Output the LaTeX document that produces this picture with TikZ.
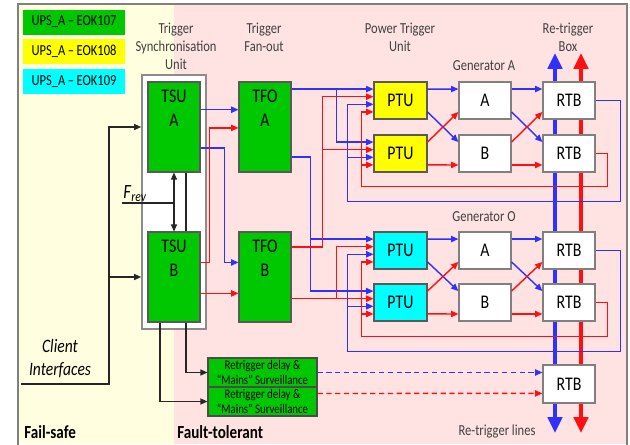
\documentclass[tikz,border=0pt]{standalone}
\usepackage{fontspec}
\setmainfont{Carlito}[FakeStretch=0.82]
\usetikzlibrary{arrows.meta,positioning,calc}

\definecolor{tsugreen}{RGB}{0,200,0}
\definecolor{ptuyellow}{RGB}{255,255,0}
\definecolor{ptucyan}{RGB}{0,255,255}
\definecolor{failbg}{RGB}{255,255,224}
\definecolor{faultbg}{RGB}{255,226,226}
\definecolor{lineblue}{RGB}{48,48,255}
\definecolor{linered}{RGB}{255,16,16}

\begin{document}
\begin{tikzpicture}[x=0.02cm, y=-0.02cm,
  unitbox/.style  = {rectangle, draw=black!65, line width=0.6pt,
                     align=center, inner sep=0pt,
                     font=\fontsize{11}{13.6}\selectfont},
  tsubox/.style   = {unitbox, fill=tsugreen,
                     minimum width=1.04cm, minimum height=1.8cm},
  tsuframe/.style = {rectangle, draw=black!45, line width=0.9pt, fill=white,
                     minimum width=1.28cm, minimum height=5.08cm},
  ptubox/.style   = {unitbox, minimum width=1.06cm, minimum height=0.74cm},
  genbox/.style   = {unitbox, fill=white, draw=black!50, line width=0.7pt,
                     minimum width=1.04cm, minimum height=0.74cm},
  rtdbox/.style   = {rectangle, draw=black!70, line width=0.6pt, fill=tsugreen,
                     align=center, inner sep=0pt,
                     font=\fontsize{7.5}{8.4}\selectfont,
                     minimum width=2.18cm, minimum height=0.58cm},
  legbox/.style   = {rectangle, inner sep=0pt,
                     font=\fontsize{8.7}{10}\selectfont,
                     minimum width=2.04cm, minimum height=0.5cm},
  boxtxt/.style   = {align=center, inner sep=0pt,
                     font=\fontsize{11}{13.6}\selectfont},
  hdr/.style      = {align=center, inner sep=0pt, text=black!75,
                     font=\fontsize{8.7}{10.2}\selectfont},
  zone/.style     = {inner sep=0pt, font=\fontsize{10.5}{12}\selectfont\bfseries},
  bl/.style  = {-{Triangle[length=4.2pt,width=3.6pt]}, line width=0.8pt, lineblue},
  rd/.style  = {-{Triangle[length=4.2pt,width=3.6pt]}, line width=0.8pt, linered},
  blk/.style = {line width=0.7pt, black!85},
  blkarr/.style = {blk, -{Triangle[length=4pt,width=3.4pt]}},
  bus/.style = {{Triangle[length=9pt,width=8pt]}-{Triangle[length=9pt,width=8pt]},
                line width=2.4pt},
]

\useasboundingbox (0,0) rectangle (630,444);

%%═══════════════════════════════════════════════════════════
%% Zones and frame
%%═══════════════════════════════════════════════════════════

\fill[failbg]  (18,4)  rectangle (174,444);
\fill[faultbg] (174,4) rectangle (628,444);
\draw[black!50, line width=0.6pt] (18,446) -- (18,4) -- (627,4) -- (627,446);

\node[zone, anchor=west] (fs) at (24,432)  {Fail-safe};
\node[zone, anchor=west] (ft) at (177,432) {Fault-tolerant};

%% legend
\node[legbox, fill=tsugreen] (legA) at (74,22) {UPS\_A\,–\,EOK107};
\node[legbox, fill=ptuyellow, below=0.08cm of legA] (legB) {UPS\_A\,–\,EOK108};
\node[legbox, fill=ptucyan,   below=0.08cm of legB] (legC) {UPS\_A\,–\,EOK109};

%% column headers
\node[hdr] (hTSU) at (176,46)  {Trigger\\Synchronisation\\Unit};
\node[hdr] (hTFO) at (264,37)  {Trigger\\Fan-out};
\node[hdr] (hPTU) at (400,37)  {Power Trigger\\Unit};
\node[hdr] (hRTB) at (568,37)  {Re-trigger\\Box};
\node[hdr] (hGA)  at (484,66)  {Generator A};
\node[hdr] (hGO)  at (484,217) {Generator O};
\node[hdr] (hRTL) at (497,432) {Re-trigger lines};

%% re-trigger lines (behind the boxes)
\coordinate (rlBtop) at (555,53);
\coordinate (rlBbot) at (555,433);
\coordinate (rlRtop) at (581,53);
\coordinate (rlRbot) at (581,433);
\draw[bus, lineblue] (rlBtop) -- (rlBbot);
\draw[bus, linered]  (rlRtop) -- (rlRbot);

%%═══════════════════════════════════════════════════════════
%% Units
%%═══════════════════════════════════════════════════════════

\node[tsuframe] (tsu) at (174,202) {};
\node[tsubox] (tsuA) at (174,127) {};
\node[boxtxt, below=4.5pt of tsuA.north] (tsuAtxt) {TSU\\A};
\node[tsubox] (tsuB) at (174,277) {};
\node[boxtxt, below=4.5pt of tsuB.north] (tsuBtxt) {TSU\\B};

\node[tsubox] (tfoA) at (265,127) {};
\node[boxtxt, below=4.5pt of tfoA.north] (tfoAtxt) {TFO\\A};
\node[tsubox] (tfoB) at (265,277) {};
\node[boxtxt, below=4.5pt of tfoB.north] (tfoBtxt) {TFO\\B};

\node[ptubox, fill=ptuyellow] (ptu1) at (400.5,100.5) {PTU};
\node[ptubox, fill=ptuyellow] (ptu2) at (400.5,153.5) {PTU};
\node[ptubox, fill=ptucyan]   (ptu3) at (400.5,250.5) {PTU};
\node[ptubox, fill=ptucyan]   (ptu4) at (400.5,302.5) {PTU};

\node[genbox] (gA1) at (485,100.5) {A};
\node[genbox] (gA2) at (485,153.5) {B};
\node[genbox] (gO1) at (485,250.5) {A};
\node[genbox] (gO2) at (485,302.5) {B};

\node[genbox] (rtb1) at (569,100.5) {RTB};
\node[genbox] (rtb2) at (569,153.5) {RTB};
\node[genbox] (rtb3) at (569,250.5) {RTB};
\node[genbox] (rtb4) at (569,302.5) {RTB};
\node[genbox, minimum height=0.76cm] (rtb5) at (569,384) {RTB};

\node[rtdbox] (rtd1) at (262.5,372.5) {Retrigger delay \&\\“Mains” Surveillance};
\node[rtdbox] (rtd2) at (262.5,401.5) {Retrigger delay \&\\“Mains” Surveillance};

%%═══════════════════════════════════════════════════════════
%% Fail-safe side
%%═══════════════════════════════════════════════════════════

\node[align=center, inner sep=0pt, font=\fontsize{10.8}{13}\selectfont\itshape]
  (client) at (60,358.5) {Client\\Interfaces};
\coordinate (ci) at (21,384);
\draw[blkarr] (ci) -- ++(88,0) |- (tsu.west |- tsuA);
\draw[blkarr] ($(ci)+(88,0)$) |- (tsu.west |- tsuB);

\coordinate (frevin) at (122,203);
\node[inner sep=0.6pt, anchor=south west, font=\fontsize{11.5}{12}\selectfont]
  (frev) at (frevin) {\textit{F}\textsubscript{\textit{rev}}};
\draw[blk] (frevin) -- (frevin -| tsuA.south);
\draw[blk, {Triangle[length=4pt,width=3.4pt]}-{Triangle[length=4pt,width=3.4pt]}]
  (tsuA.south) -- (tsuB.north);
\draw[blk] ($(tsuA.south)+(12,0)$) -- ($(tsuB.north)+(12,0)$);
\draw[blkarr] ($(tsuB.south)+(12,0)$) |- (rtd1.west);
\draw[blkarr] ($(tsuB.south)+(-14,0)$) |- (rtd2.west);

%%═══════════════════════════════════════════════════════════
%% TSU -> TFO -> PTU
%%═══════════════════════════════════════════════════════════

\draw[bl] ($(tsuA.north east)!.31!(tsuA.south east)$) coordinate (c1) -- (c1 -| tfoA.west);
\draw[bl] ($(tsuA.north east)!.73!(tsuA.south east)$) -- ++(24,0)
  |- ($(tfoB.north west)!.34!(tfoB.south west)$);
\draw[rd] ($(tsuB.north east)!.34!(tsuB.south east)$) -- ++(9,0)
  |- ($(tfoA.north west)!.51!(tfoA.south west)$);
\draw[rd] ($(tsuB.north east)!.68!(tsuB.south east)$) coordinate (c2) -- (c2 -| tfoB.west);

\coordinate (in11) at ($(ptu1.north west)!.2!(ptu1.south west)$);
\draw[bl] (tfoA.east |- in11) -- (in11);
\draw[bl] ($(tfoA.east |- in11)+(45,0)$) |- ($(ptu2.north west)!.2!(ptu2.south west)$);

\draw[bl] ($(tfoA.north east)!.83!(tfoA.south east)$) -- ++(19,0) coordinate (fo1)
  |- ($(ptu4.north west)!.2!(ptu4.south west)$);
\draw[bl] (fo1) |- ($(ptu3.north west)!.2!(ptu3.south west)$);

\draw[rd] ($(tfoB.north east)!.17!(tfoB.south east)$) -- ++(31,0) coordinate (fo2)
  |- ($(ptu1.north west)!.4!(ptu1.south west)$);
\draw[rd] (fo2) |- ($(ptu2.north west)!.4!(ptu2.south west)$);

\coordinate (in42) at ($(ptu4.north west)!.4!(ptu4.south west)$);
\draw[rd] (tfoB.east |- in42) -- (in42);
\draw[rd] ($(tfoB.east |- in42)+(45,0)$) |- ($(ptu3.north west)!.4!(ptu3.south west)$);

%%═══════════════════════════════════════════════════════════
%% PTU -> Generator -> RTB
%%═══════════════════════════════════════════════════════════

%% Generator A
\draw[bl] ($(ptu1.north east)!.2!(ptu1.south east)$) -- ($(gA1.north west)!.2!(gA1.south west)$);
\draw[bl] ($(ptu1.north east)!.8!(ptu1.south east)$) -- ($(gA2.north west)!.2!(gA2.south west)$);
\draw[rd] ($(ptu2.north east)!.2!(ptu2.south east)$) -- ($(gA1.north west)!.8!(gA1.south west)$);
\draw[rd] ($(ptu2.north east)!.8!(ptu2.south east)$) -- ($(gA2.north west)!.8!(gA2.south west)$);
\draw[bl] ($(gA1.north east)!.2!(gA1.south east)$) -- ($(rtb1.north west)!.2!(rtb1.south west)$);
\draw[bl] ($(gA1.north east)!.8!(gA1.south east)$) -- ($(rtb2.north west)!.2!(rtb2.south west)$);
\draw[rd] ($(gA2.north east)!.2!(gA2.south east)$) -- ($(rtb1.north west)!.8!(rtb1.south west)$);
\draw[rd] ($(gA2.north east)!.8!(gA2.south east)$) -- ($(rtb2.north west)!.8!(rtb2.south west)$);

%% Generator O
\draw[bl] ($(ptu3.north east)!.2!(ptu3.south east)$) -- ($(gO1.north west)!.2!(gO1.south west)$);
\draw[bl] ($(ptu3.north east)!.8!(ptu3.south east)$) -- ($(gO2.north west)!.2!(gO2.south west)$);
\draw[rd] ($(ptu4.north east)!.2!(ptu4.south east)$) -- ($(gO1.north west)!.8!(gO1.south west)$);
\draw[rd] ($(ptu4.north east)!.8!(ptu4.south east)$) -- ($(gO2.north west)!.8!(gO2.south west)$);
\draw[bl] ($(gO1.north east)!.2!(gO1.south east)$) -- ($(rtb3.north west)!.2!(rtb3.south west)$);
\draw[bl] ($(gO1.north east)!.8!(gO1.south east)$) -- ($(rtb4.north west)!.2!(rtb4.south west)$);
\draw[rd] ($(gO2.north east)!.2!(gO2.south east)$) -- ($(rtb3.north west)!.8!(rtb3.south west)$);
\draw[rd] ($(gO2.north east)!.8!(gO2.south east)$) -- ($(rtb4.north west)!.8!(rtb4.south west)$);

%%═══════════════════════════════════════════════════════════
%% RTB feedback to the PTUs
%%═══════════════════════════════════════════════════════════

\draw[bl] (rtb1.east) -- ++(25,0) |- ($(ptu2.south west)+(-26,29)$) coordinate (fbA1)
  |- ($(ptu1.north west)!.6!(ptu1.south west)$);
\draw[bl] (fbA1) |- ($(ptu2.north west)!.6!(ptu2.south west)$);
\draw[rd] (rtb2.east) -- ++(12,0) |- ($(ptu2.south west)+(-12,14)$) coordinate (fbA2)
  |- ($(ptu1.north west)!.8!(ptu1.south west)$);
\draw[rd] (fbA2) |- ($(ptu2.north west)!.8!(ptu2.south west)$);

\draw[bl] (rtb3.east) -- ++(25,0) |- ($(ptu4.south west)+(-26,30)$) coordinate (fbO1)
  |- ($(ptu3.north west)!.6!(ptu3.south west)$);
\draw[bl] (fbO1) |- ($(ptu4.north west)!.6!(ptu4.south west)$);
\draw[rd] (rtb4.east) -- ++(12,0) |- ($(ptu4.south west)+(-12,15)$) coordinate (fbO2)
  |- ($(ptu3.north west)!.8!(ptu3.south west)$);
\draw[rd] (fbO2) |- ($(ptu4.north west)!.8!(ptu4.south west)$);

%% retrigger delay -> last RTB
\draw[bl, dashed, dash pattern=on 3pt off 2pt] (rtd1.east) -- (rtd1.east -| rtb5.west);
\draw[rd, dashed, dash pattern=on 3pt off 2pt]
  ($(rtd2.north east)+(0,7)$) -- ($(rtb5.north west)+(0,29)$);

\end{tikzpicture}
\end{document}
